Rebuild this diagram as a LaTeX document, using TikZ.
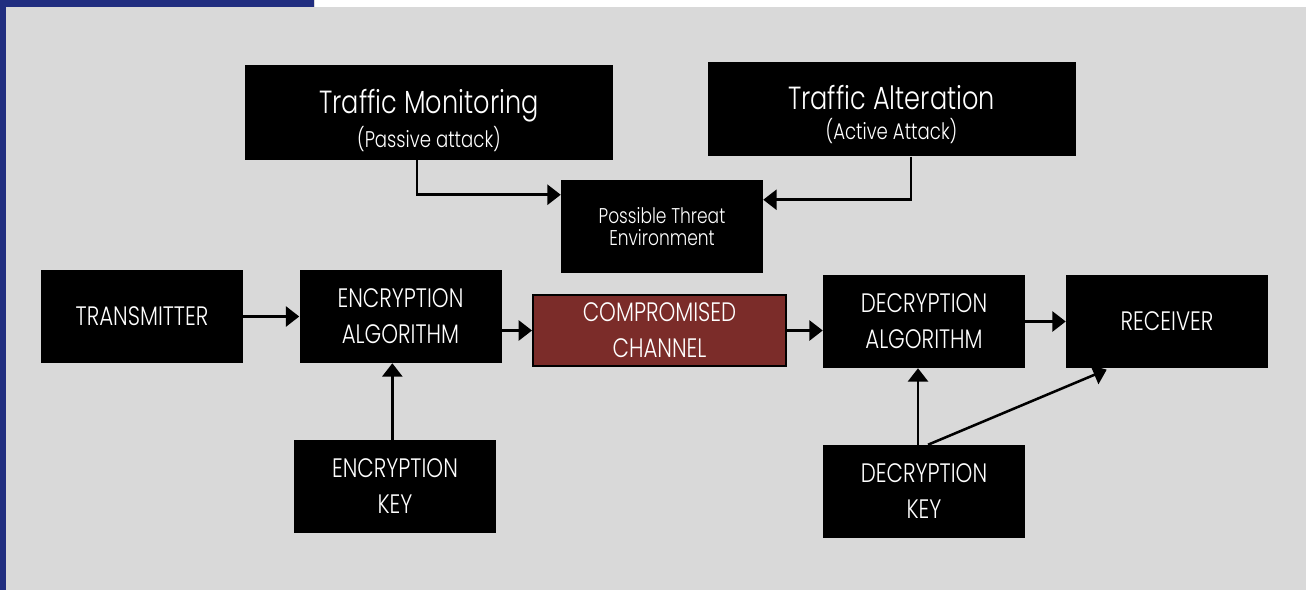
\documentclass[tikz,border=0pt]{standalone}
\usepackage{fontspec}
\setmainfont{Poppins}[UprightFont=* Light,FakeStretch=0.8]
\usetikzlibrary{arrows.meta}
\definecolor{bggray}{HTML}{D9D9D9}
\definecolor{barblue}{HTML}{212E80}
\definecolor{chanred}{HTML}{7B2C29}
\begin{document}
\begin{tikzpicture}[x=0.75pt,y=-0.75pt,
        blk/.style={fill=black,text=white,align=center,inner sep=0pt,minimum width=151.5pt,minimum height=69.75pt,font=\fontsize{20}{27}\selectfont},
        attack/.style={fill=black,minimum width=276pt,minimum height=71pt},
        attacktext/.style={text=white,align=center,inner sep=0pt},
        arr/.style={line width=1.9pt,-{Triangle[length=10pt,width=15pt]}}]
    \fill[bggray] (0,0) rectangle (1306,590);
    \fill[white] (315,0) rectangle (1306,7);
    \fill[barblue] (0,0) rectangle (314,7);
    \fill[barblue] (0,0) rectangle (6,590);
    \node[attack] (tmon) at (429,112.5) {};
    \node[attacktext,font=\fontsize{17}{25}\selectfont] (tmontxt) at ([yshift=-6pt]tmon.center) {{\fontsize{24}{30}\selectfont Traffic Monitoring}\\(Passive attack)};
    \node[attack] (talt) at (891.5,109) {};
    \node[attacktext,font=\fontsize{17}{22}\selectfont] (talttxt) at ([yshift=-4pt]talt.center) {{\fontsize{24}{28}\selectfont Traffic Alteration}\\(Active Attack)};
    \node[blk,font=\fontsize{16}{17}\selectfont] (threat) at (662,226.5) {Possible Threat\\Environment};
    \node[blk] (tx) at (142,316.5) {TRANSMITTER};
    \node[blk] (encalg) at (400.5,316.5) {ENCRYPTION\\ALGORITHM};
    \node[blk,fill=chanred,draw=black,line width=1.5pt,minimum width=189.75pt,minimum height=53.25pt] (chan) at (659.5,330.5) {COMPROMISED\\CHANNEL};
    \node[blk] (decalg) at (924,321.5) {DECRYPTION\\ALGORITHM};
    \node[blk] (rx) at (1167,321.5) {RECEIVER};
    \node[blk] (enckey) at (395,486.5) {ENCRYPTION\\KEY};
    \node[blk] (deckey) at (924,491.5) {DECRYPTION\\KEY};
    \draw[arr] ([xshift=-9pt]tmon.south) |- ([yshift=-11.25pt]threat.north west);
    \draw[arr] ([xshift=14.6pt]talt.south) |- ([yshift=-15pt]threat.north east);
    \draw[arr] (tx.east) -- (encalg.west);
    \draw[arr] (encalg.east |- chan.west) -- (chan.west);
    \draw[arr] (chan.east) -- (chan.east -| decalg.west);
    \draw[arr] (decalg.east) -- (rx.west);
    \draw[arr] ([xshift=-2pt]enckey.north) -- ([xshift=-2pt]enckey.north |- encalg.south);
    \draw[arr] ([xshift=-4.5pt]deckey.north) -- ([xshift=-4.5pt]deckey.north |- decalg.south);
    \draw[arr] ([xshift=3pt]deckey.north) -- ([xshift=30.75pt,yshift=-1pt]rx.south west);
\end{tikzpicture}
\end{document}
